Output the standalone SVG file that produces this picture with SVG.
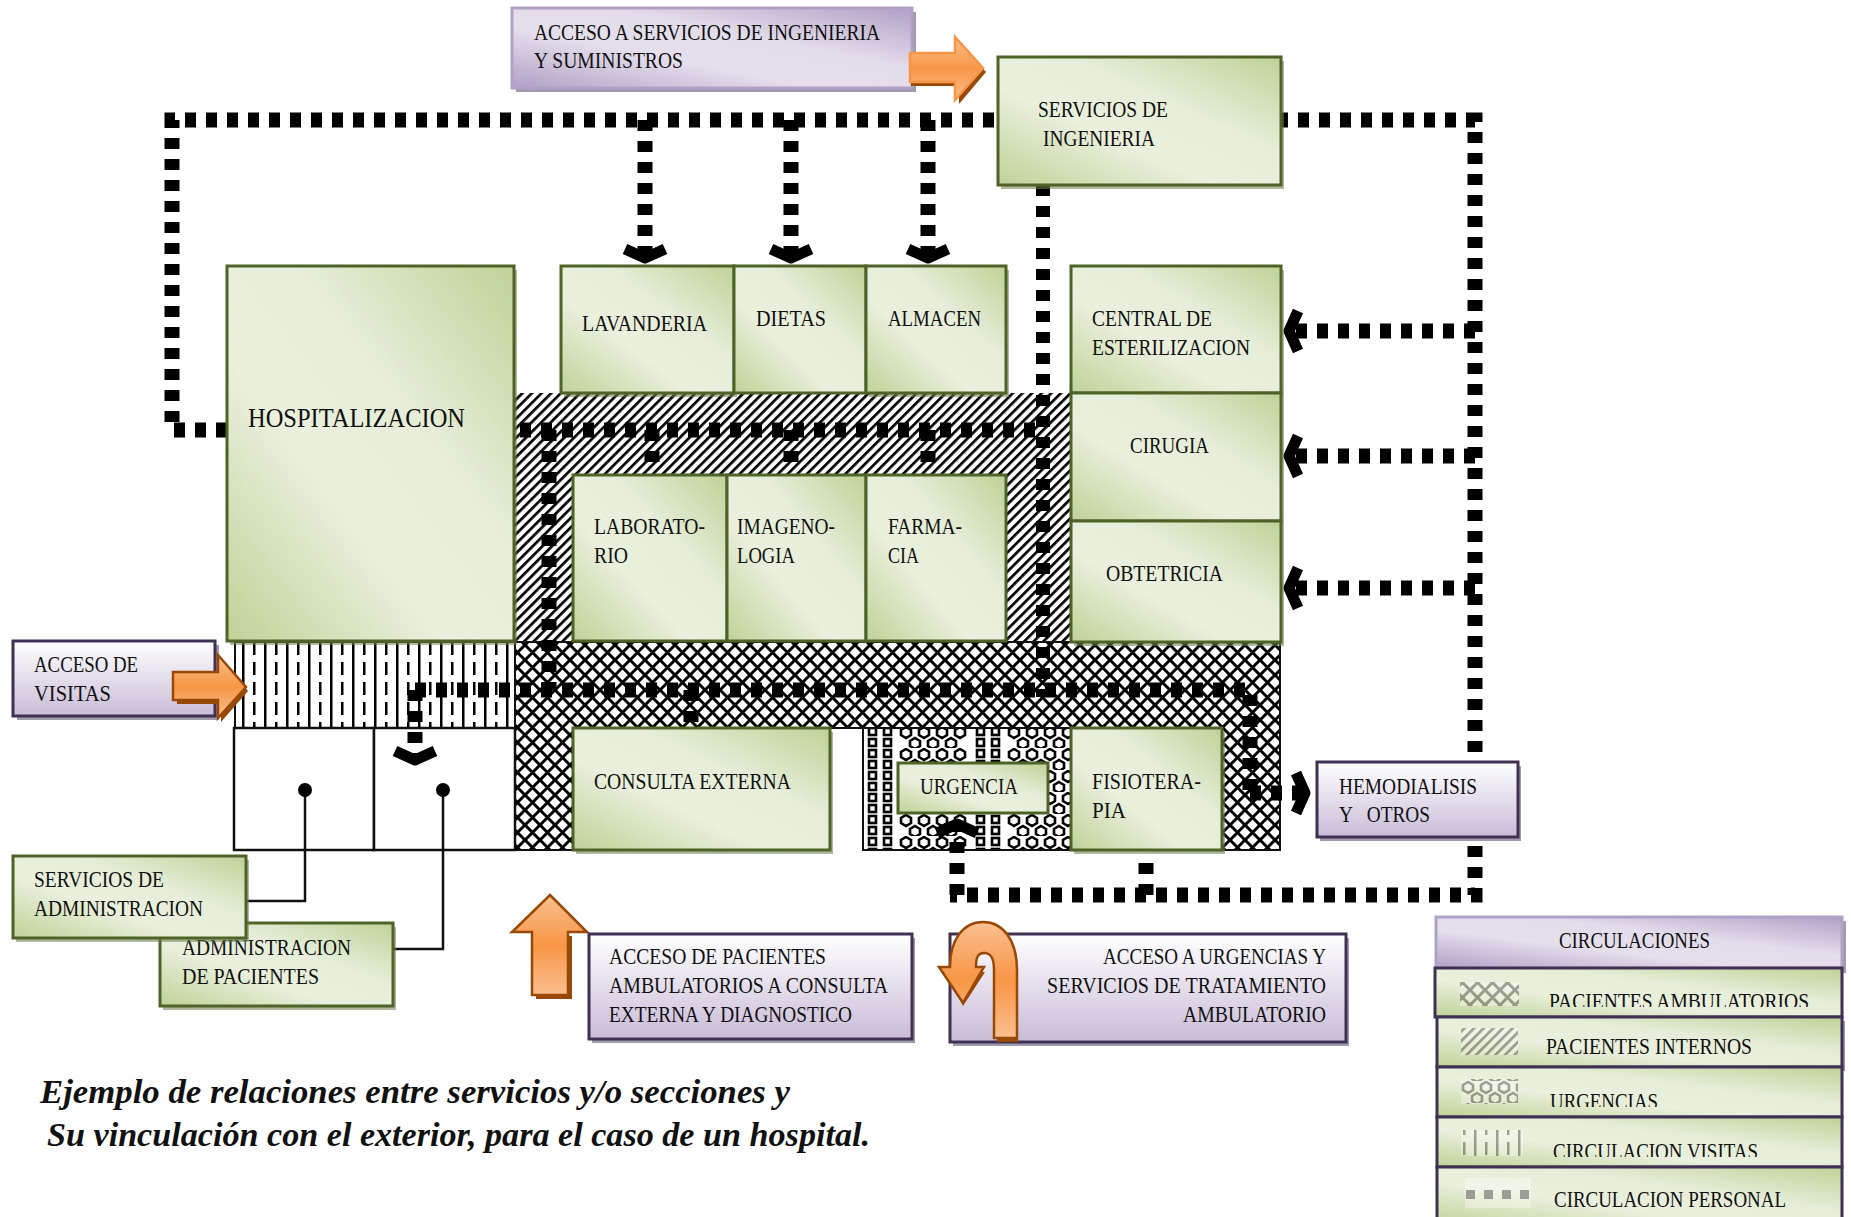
<svg xmlns="http://www.w3.org/2000/svg" width="1851" height="1217" viewBox="0 0 1851 1217">
<style>
text{font-family:"Liberation Serif","Times New Roman",serif;font-size:24px;fill:#111;white-space:pre}
.t{font-size:33px;font-weight:bold;font-style:italic}
.big{font-size:28px}
.g{fill:url(#green);stroke:#4f6228;stroke-width:3}
.gs{fill:#6f7f4a;opacity:.55}
.p{fill:url(#purpleV);stroke:#403152;stroke-width:3}
.pd{fill:url(#purpleD);stroke:#b2a1c7;stroke-width:3}
.ps{fill:#5f5675;opacity:.6}
.r{fill:url(#green);stroke:#403152;stroke-width:3}
.dash{fill:none;stroke:#000;stroke-width:15;stroke-dasharray:11 10}
.dashm{marker-end:url(#chev)}
.thin{fill:none;stroke:#111;stroke-width:2.5}
.cell{fill:#fff;stroke:#111;stroke-width:2.5}
.arr{fill:url(#orange);stroke:#984807;stroke-width:2.5}
.arrs{fill:#984807}
.sw{opacity:.33}
</style>
<defs>
<linearGradient id="green" x1="1" y1="0" x2="0" y2="1"><stop offset="0" stop-color="#bfd296"/><stop offset=".38" stop-color="#e6eeda"/><stop offset=".62" stop-color="#e9f0dd"/><stop offset="1" stop-color="#bfd296"/></linearGradient>
<linearGradient id="purpleD" x1="1" y1="0" x2="0" y2="1"><stop offset="0" stop-color="#b0a0c6"/><stop offset=".38" stop-color="#e3dcea"/><stop offset=".62" stop-color="#e5dfec"/><stop offset="1" stop-color="#b0a0c6"/></linearGradient>
<linearGradient id="purpleV" x1="0" y1="0" x2="0" y2="1"><stop offset="0" stop-color="#fff"/><stop offset="1" stop-color="#c9bcd7"/></linearGradient>
<linearGradient id="orange" x1="0" y1="0" x2="0" y2="1"><stop offset="0" stop-color="#fabf8f"/><stop offset=".5" stop-color="#f79646"/><stop offset="1" stop-color="#fabf8f"/></linearGradient>
<pattern id="hatch" width="6.8" height="6.8" patternUnits="userSpaceOnUse" patternTransform="rotate(45)"><rect width="6.8" height="6.8" fill="#fff"/><rect width="2.7" height="6.8" fill="#000"/></pattern>
<pattern id="cross" width="15" height="15" patternUnits="userSpaceOnUse"><rect width="15" height="15" fill="#fff"/><path d="M-1,-1L16,16M16,-1L-1,16" stroke="#000" stroke-width="3"/></pattern>
<pattern id="visit" width="22" height="20" patternUnits="userSpaceOnUse"><rect width="22" height="20" fill="#fff"/><rect x="0" width="2.5" height="20" fill="#000"/><rect x="11" y="2" width="2.5" height="13" fill="#000"/></pattern>
<pattern id="urg" width="108" height="22" patternUnits="userSpaceOnUse"><rect width="108" height="22" fill="#fff"/><g fill="none" stroke="#000" stroke-width="2.6"><rect x="5" y="2" width="7" height="7"/><rect x="20" y="2" width="7" height="7"/><rect x="5" y="13" width="7" height="7"/><rect x="20" y="13" width="7" height="7"/><path d="M42,1l5,3v5l-5,3l-5,-3v-5zM60,1l5,3v5l-5,3l-5,-3v-5zM78,1l5,3v5l-5,3l-5,-3v-5zM96,1l5,3v5l-5,3l-5,-3v-5zM51,12l5,3v5l-5,3l-5,-3v-5zM69,12l5,3v5l-5,3l-5,-3v-5zM87,12l5,3v5l-5,3l-5,-3v-5z"/></g></pattern>
<pattern id="urgs" href="#urg" patternTransform="translate(1426 3)"/>
<marker id="chev" markerUnits="userSpaceOnUse" markerWidth="60" markerHeight="60" refX="0" refY="0" orient="auto" overflow="visible"><path d="M-9,-20L0,0L-9,20" fill="none" stroke="#000" stroke-width="11" stroke-linejoin="round"/></marker>
<clipPath id="c1"><rect x="1500" y="980" width="330" height="27"/></clipPath>
<clipPath id="c2"><rect x="1500" y="1080" width="330" height="27"/></clipPath>
<clipPath id="c3"><rect x="1500" y="1130" width="330" height="27"/></clipPath>
</defs>
<rect width="1851" height="1217" fill="#fff"/>

<g id="zonas">
<rect x="515" y="393" width="556" height="249" fill="url(#hatch)"/>
<rect x="235" y="642" width="280" height="86" fill="url(#visit)" stroke="#111" stroke-width="2"/>
<path d="M515,642H1280V850H1222V728H573V850H515Z" fill="url(#cross)" stroke="#111" stroke-width="2"/>
<rect x="863" y="728" width="208" height="122" fill="url(#urg)" stroke="#111" stroke-width="2"/>
<rect class="cell" x="234" y="728" width="140" height="122"/>
<rect class="cell" x="374" y="728" width="141" height="122"/>
</g>

<g id="connectors">
<path class="dash" d="M227,430H172V120H1475V895H950"/>
<path class="dash dashm" d="M645,120V258"/>
<path class="dash dashm" d="M791,120V258"/>
<path class="dash dashm" d="M928,120V258"/>
<path class="dash dashm" d="M1475,331H1289"/>
<path class="dash dashm" d="M1475,456H1289"/>
<path class="dash dashm" d="M1475,588H1289"/>
<path class="dash" style="stroke-width:14" d="M1043,185V697"/>
<path class="dash" d="M520,430H1040"/>
<path class="dash" d="M549,430V690"/>
<path class="dash" d="M652,430V465M791,430V465M928,430V465"/>
<path class="dash" d="M415,690H1250V793"/>
<path class="dash dashm" d="M1250,793H1305"/>
<path class="dash" d="M691,690V722"/>
<path class="dash dashm" d="M415,690V760"/>
<path class="dash dashm" d="M957,895V824"/>
<path class="dash" d="M1146,895V862"/>
<path class="thin" d="M246,901H305V790"/>
<path class="thin" d="M393,949H443V790"/>
<circle cx="305" cy="790" r="7" fill="#000"/>
<circle cx="443" cy="790" r="7" fill="#000"/>
</g>

<g id="hospitalizacion"><rect class="gs" x="230" y="270" width="287" height="375"/><rect class="g" x="227" y="266" width="287" height="375"/><text class="big" x="248" y="427" textLength="217" lengthAdjust="spacingAndGlyphs">HOSPITALIZACION</text></g>
<g id="lavanderia"><rect class="gs" x="564" y="270" width="173" height="127"/><rect class="g" x="561" y="266" width="173" height="127"/><text x="582" y="331" textLength="125" lengthAdjust="spacingAndGlyphs">LAVANDERIA</text></g>
<g id="dietas"><rect class="g" x="734" y="266" width="132" height="127"/><text x="756" y="326" textLength="70" lengthAdjust="spacingAndGlyphs">DIETAS</text></g>
<g id="almacen"><rect class="gs" x="869" y="270" width="140" height="127"/><rect class="g" x="866" y="266" width="140" height="127"/><text x="888" y="326" textLength="93" lengthAdjust="spacingAndGlyphs">ALMACEN</text></g>
<g id="central"><rect class="gs" x="1074" y="270" width="210" height="127"/><rect class="g" x="1071" y="266" width="210" height="127"/><text x="1092" y="326" textLength="120" lengthAdjust="spacingAndGlyphs">CENTRAL DE</text><text x="1092" y="355" textLength="158" lengthAdjust="spacingAndGlyphs">ESTERILIZACION</text></g>
<g id="cirugia"><rect class="gs" x="1074" y="397" width="210" height="128"/><rect class="g" x="1071" y="393" width="210" height="128"/><text x="1130" y="453" textLength="79" lengthAdjust="spacingAndGlyphs">CIRUGIA</text></g>
<g id="obtetricia"><rect class="gs" x="1074" y="525" width="210" height="121"/><rect class="g" x="1071" y="521" width="210" height="121"/><text x="1106" y="581" textLength="117" lengthAdjust="spacingAndGlyphs">OBTETRICIA</text></g>
<g id="servicios-ingenieria"><rect class="gs" x="1001" y="61" width="283" height="128"/><rect class="g" x="998" y="57" width="283" height="128"/><text x="1038" y="117" textLength="130" lengthAdjust="spacingAndGlyphs">SERVICIOS DE</text><text x="1043" y="146" textLength="112" lengthAdjust="spacingAndGlyphs">INGENIERIA</text></g>
<g id="laboratorio"><rect class="g" x="573" y="475" width="154" height="166"/><text x="594" y="534" textLength="111" lengthAdjust="spacingAndGlyphs">LABORATO-</text><text x="594" y="563" textLength="34" lengthAdjust="spacingAndGlyphs">RIO</text></g>
<g id="imagenologia"><rect class="g" x="727" y="475" width="139" height="166"/><text x="737" y="534" textLength="98" lengthAdjust="spacingAndGlyphs">IMAGENO-</text><text x="737" y="563" textLength="58" lengthAdjust="spacingAndGlyphs">LOGIA</text></g>
<g id="farmacia"><rect class="g" x="866" y="475" width="140" height="166"/><text x="888" y="534" textLength="74" lengthAdjust="spacingAndGlyphs">FARMA-</text><text x="888" y="563" textLength="31" lengthAdjust="spacingAndGlyphs">CIA</text></g>
<g id="consulta"><rect class="gs" x="576" y="732" width="257" height="122"/><rect class="g" x="573" y="728" width="257" height="122"/><text x="594" y="789" textLength="197" lengthAdjust="spacingAndGlyphs">CONSULTA EXTERNA</text></g>
<g id="urgencia"><rect class="g" x="898" y="763" width="150" height="50"/><text x="920" y="794" textLength="98" lengthAdjust="spacingAndGlyphs">URGENCIA</text></g>
<g id="fisioterapia"><rect class="gs" x="1074" y="732" width="151" height="122"/><rect class="g" x="1071" y="728" width="151" height="122"/><text x="1092" y="789" textLength="109" lengthAdjust="spacingAndGlyphs">FISIOTERA-</text><text x="1092" y="818" textLength="34" lengthAdjust="spacingAndGlyphs">PIA</text></g>

<g id="acceso-ingenieria"><rect class="ps" x="516" y="12" width="400" height="80"/><rect class="pd" x="512" y="8" width="400" height="80"/><text x="534" y="40" textLength="346" lengthAdjust="spacingAndGlyphs">ACCESO A SERVICIOS DE INGENIERIA</text><text x="534" y="68" textLength="149" lengthAdjust="spacingAndGlyphs">Y SUMINISTROS</text></g>
<g id="flecha-ingenieria"><path class="arrs" d="M911,57H959V41L986,72L959,104V86H911Z"/><path class="arr" style="stroke:#f79646" d="M910,53H955V37L983,68L955,100V82H910Z"/></g>
<g id="acceso-visitas"><rect class="ps" x="17" y="645" width="202" height="75"/><rect class="p" x="13" y="641" width="202" height="75"/><text x="34" y="672" textLength="104" lengthAdjust="spacingAndGlyphs">ACCESO DE</text><text x="34" y="701" textLength="77" lengthAdjust="spacingAndGlyphs">VISITAS</text></g>
<g id="flecha-visitas"><path class="arrs" d="M177,676H221V659L248,691L221,722V704H177Z"/><path class="arr" d="M173,672H218V655L246,687L218,718V700H173Z"/></g>
<g id="administracion-pacientes"><rect class="gs" x="163" y="927" width="233" height="83"/><rect class="g" x="160" y="923" width="233" height="83"/><text x="182" y="955" textLength="169" lengthAdjust="spacingAndGlyphs">ADMINISTRACION</text><text x="182" y="984" textLength="137" lengthAdjust="spacingAndGlyphs">DE PACIENTES</text></g>
<g id="servicios-administracion"><rect class="gs" x="16" y="860" width="233" height="82"/><rect class="g" x="13" y="856" width="233" height="82"/><text x="34" y="887" textLength="130" lengthAdjust="spacingAndGlyphs">SERVICIOS DE</text><text x="34" y="916" textLength="169" lengthAdjust="spacingAndGlyphs">ADMINISTRACION</text></g>
<g id="hemodialisis"><rect class="ps" x="1320" y="766" width="201" height="75"/><rect class="p" x="1317" y="762" width="201" height="75"/><text x="1339" y="794" textLength="138" lengthAdjust="spacingAndGlyphs">HEMODIALISIS</text><text x="1339" y="822" textLength="91" lengthAdjust="spacingAndGlyphs">Y   OTROS</text></g>
<g id="flecha-ambulatorios"><path class="arrs" d="M536,936H572V999H536Z"/><path class="arr" d="M550,895L587,932H568V995H532V932H512Z"/></g>
<g id="acceso-pacientes"><rect class="ps" x="592" y="938" width="323" height="105"/><rect class="p" x="589" y="934" width="323" height="105"/><text x="609" y="964" textLength="217" lengthAdjust="spacingAndGlyphs">ACCESO DE PACIENTES</text><text x="609" y="993" textLength="279" lengthAdjust="spacingAndGlyphs">AMBULATORIOS A CONSULTA</text><text x="609" y="1022" textLength="243" lengthAdjust="spacingAndGlyphs">EXTERNA Y DIAGNOSTICO</text></g>
<g id="acceso-urgencias"><rect class="ps" x="953" y="938" width="396" height="108"/><rect class="p" x="950" y="934" width="396" height="108"/><text x="1103" y="964" textLength="223" lengthAdjust="spacingAndGlyphs">ACCESO A URGENCIAS Y</text><text x="1047" y="993" textLength="279" lengthAdjust="spacingAndGlyphs">SERVICIOS DE TRATAMIENTO</text><text x="1183" y="1022" textLength="143" lengthAdjust="spacingAndGlyphs">AMBULATORIO</text></g>
<g id="flecha-urgencias"><path class="arrs" d="M997,1042V1038H1018V1042Z"/><path class="arrs" d="M965,972L985,972L963,1006L948,975Z"/><path class="arr" d="M994,1038H1017V970C1017,940 1003,922 983,922C963,922 950,940 950,967H939L963,1003L984,967H976C976,957 978,953 984,953C991,953 994,958 994,970Z"/></g>

<g id="leyenda">
<g id="circulaciones"><rect class="ps" x="1440" y="921" width="406" height="52"/><rect class="pd" x="1436" y="917" width="406" height="51"/><text x="1559" y="948" textLength="151" lengthAdjust="spacingAndGlyphs">CIRCULACIONES</text></g>
<g id="pacientes-ambulatorios"><rect class="ps" x="1438" y="972" width="404" height="49"/><rect class="r" x="1435" y="968" width="407" height="49"/><rect class="sw" x="1460" y="982" width="59" height="24" fill="url(#cross)"/><text clip-path="url(#c1)" x="1549" y="1009" textLength="260" lengthAdjust="spacingAndGlyphs">PACIENTES AMBULATORIOS</text></g>
<g id="pacientes-internos"><rect class="ps" x="1440" y="1021" width="405" height="50"/><rect class="r" x="1437" y="1017" width="405" height="50"/><rect class="sw" x="1461" y="1028" width="57" height="27" fill="url(#hatch)"/><text x="1546" y="1054" textLength="206" lengthAdjust="spacingAndGlyphs">PACIENTES INTERNOS</text></g>
<g id="urgencias"><rect class="ps" x="1440" y="1071" width="402" height="50"/><rect class="r" x="1437" y="1067" width="405" height="50"/><rect class="sw" x="1461" y="1079" width="57" height="25" fill="url(#urgs)"/><text clip-path="url(#c2)" x="1550" y="1109" textLength="108" lengthAdjust="spacingAndGlyphs">URGENCIAS</text></g>
<g id="circulacion-visitas"><rect class="ps" x="1440" y="1121" width="402" height="50"/><rect class="r" x="1437" y="1117" width="405" height="50"/><rect class="sw" x="1461" y="1130" width="62" height="26" fill="url(#visit)"/><text clip-path="url(#c3)" x="1553" y="1159" textLength="205" lengthAdjust="spacingAndGlyphs">CIRCULACION VISITAS</text></g>
<g id="circulacion-personal"><rect class="r" x="1437" y="1167" width="405" height="60"/><rect x="1465" y="1178" width="66" height="30" fill="#fff" opacity=".35"/><path d="M1466,1194.5H1531" stroke="#000" stroke-width="9" stroke-dasharray="9 9" fill="none" opacity=".35"/><text x="1554" y="1207" textLength="232" lengthAdjust="spacingAndGlyphs">CIRCULACION PERSONAL</text></g>
</g>

<g id="titulo"><text class="t" x="40" y="1103" textLength="750" lengthAdjust="spacingAndGlyphs">Ejemplo de relaciones entre servicios y/o secciones y</text><text class="t" x="47" y="1146" textLength="823" lengthAdjust="spacingAndGlyphs">Su vinculación con el exterior, para el caso de un hospital.</text></g>
</svg>
